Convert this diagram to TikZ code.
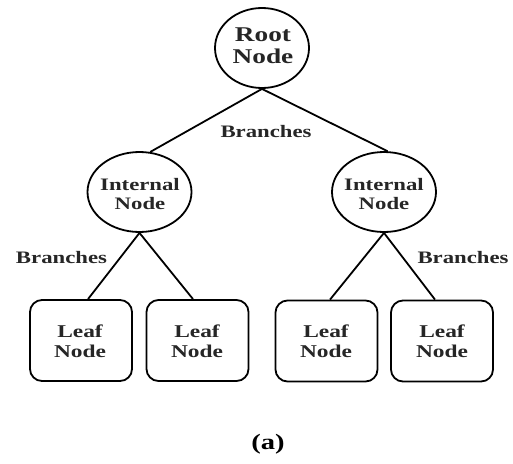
\documentclass[tikz,border=0pt]{standalone}
\usepackage{fontspec}
\setmainfont{Liberation Serif}[FakeStretch=1.3]
\usetikzlibrary{shapes.geometric,calc}
\begin{document}
\begin{tikzpicture}[x=1pt,y=-1pt,line width=1.8pt,
  ovalbox/.style={ellipse,draw,inner sep=0pt},
  leafbox/.style={rectangle,draw,rounded corners=12pt,minimum width=102pt,minimum height=81pt,inner sep=0pt},
  rootfont/.style={font=\bfseries\fontsize{21}{22}\selectfont,align=center,inner sep=0pt,text=black!85},
  intfont/.style={font=\bfseries\fontsize{17.5}{18.5}\selectfont,align=center,inner sep=0pt,text=black!85},
  leaffont/.style={font=\bfseries\fontsize{18}{20}\selectfont,align=center,inner sep=0pt,text=black!85},
  brfont/.style={font=\bfseries\fontsize{17.5}{20}\selectfont,inner sep=0pt,text=black!85},
  capfont/.style={font=\bfseries\fontsize{22}{24}\selectfont,inner sep=0pt}]
\useasboundingbox (0,0) rectangle (513,463);
\fill[white] (0,0) rectangle (513,463);
% nodes
\node[ovalbox,minimum width=94pt,minimum height=80pt] (root) at (262,48) {};
\node[rootfont] (roott) at (263,46) {Root\\Node};
\node[ovalbox,minimum width=104pt,minimum height=80pt] (il) at (139.5,192) {};
\node[intfont] (ilt) at (140,194) {Internal\\Node};
\node[ovalbox,minimum width=104pt,minimum height=80pt] (ir) at (384,192) {};
\node[intfont] (irt) at (384,194) {Internal\\Node};
\node[leafbox] (l1) at (81,340.5) {};
\node[leaffont] (l1t) at (80,341) {Leaf\\Node};
\node[leafbox] (l2) at (197.5,340.5) {};
\node[leaffont] (l2t) at (197,341) {Leaf\\Node};
\node[leafbox] (l3) at (326.5,341) {};
\node[leaffont] (l3t) at (326,341) {Leaf\\Node};
\node[leafbox] (l4) at (442,341) {};
\node[leaffont] (l4t) at (442,341) {Leaf\\Node};
% connectors
\draw (root.south) -- (il.75);
\draw (root.south) -- (ir.85);
\draw (il.south) -- ([xshift=7pt]l1.north);
\draw (il.south) -- ([xshift=-4.5pt]l2.north);
\draw (ir.south) -- ([xshift=3.5pt]l3.north);
\draw (ir.south) -- ([xshift=-7pt]l4.north);
% labels
\node[brfont] (b1) at (266,132) {Branches};
\node[brfont] (b2) at (61.5,258) {Branches};
\node[brfont] (b3) at (463,258) {Branches};
\node[capfont] (cap) at (268,444) {(a)};
\end{tikzpicture}
\end{document}
